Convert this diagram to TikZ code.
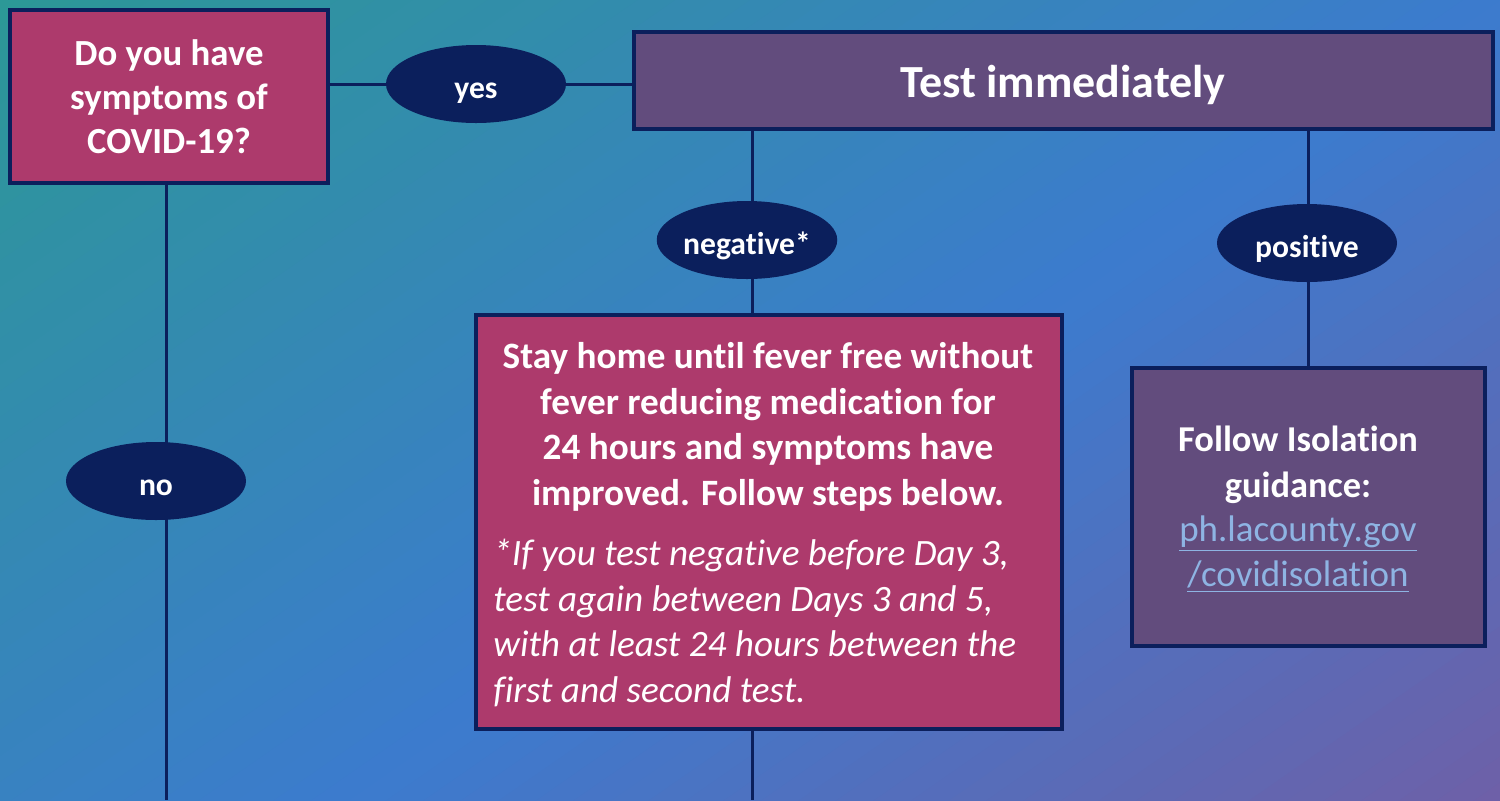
\documentclass[tikz,border=0pt]{standalone}
\usepackage{fontspec}
\setmainfont{Carlito}[Ligatures={NoCommon}]
\usetikzlibrary{shapes.geometric,fit}
\definecolor{tealC}{RGB}{44,152,150}
\definecolor{blueC}{RGB}{60,123,206}
\definecolor{purpC}{RGB}{125,88,156}
\definecolor{navy}{RGB}{11,31,92}
\definecolor{mag}{RGB}{173,58,108}
\definecolor{purp}{RGB}{98,76,125}
\definecolor{linkC}{RGB}{142,180,227}
\pgfdeclarelayer{bg}
\pgfdeclarelayer{lines}
\pgfsetlayers{bg,lines,main}
\begin{document}
\begin{tikzpicture}[x=0.5pt,y=-0.5pt,
  box/.style={draw=navy, line width=2pt, inner sep=0pt},
  magbox/.style={box, fill=mag},
  purbox/.style={box, fill=purp},
  oval/.style={ellipse, fill=navy, text=white, font=\bfseries\fontsize{15.8}{18}\selectfont, minimum width=90pt, minimum height=39pt, inner sep=0pt, text height=14pt, text depth=0pt},
  txt/.style={text=white, inner sep=0pt, align=center},
  conn/.style={draw=navy, line width=1.5pt}]
\useasboundingbox (0,0) rectangle (1500,800);
\begin{pgfonlayer}{bg}
\begin{scope}
\clip (0,0) rectangle (1500,800);
\foreach \i in {0,...,79}{
  \pgfmathsetmacro\myA{\i*21.4125}
  \pgfmathsetmacro\myB{\myA+23.5}
  \pgfmathsetmacro\myT{(\i+0.5)/80}
  \ifdim\myT pt<0.5pt
    \pgfmathsetmacro\myP{\myT*200}\colorlet{cc}{blueC!\myP!tealC}
  \else
    \pgfmathsetmacro\myP{(\myT-0.5)*200}\colorlet{cc}{purpC!\myP!blueC}
  \fi
  \fill[cc] ({\myA*cos(55.2)+1800*sin(55.2)},{\myA*sin(55.2)-1800*cos(55.2)})
    -- ({\myB*cos(55.2)+1800*sin(55.2)},{\myB*sin(55.2)-1800*cos(55.2)})
    -- ({\myB*cos(55.2)-1800*sin(55.2)},{\myB*sin(55.2)+1800*cos(55.2)})
    -- ({\myA*cos(55.2)-1800*sin(55.2)},{\myA*sin(55.2)+1800*cos(55.2)}) -- cycle;
}
\end{scope}
\end{pgfonlayer}

% boxes
\node[magbox, fit={(10,10) (328,183)}] (q) {};
\node[purbox, fit={(634,32) (1493,129)}] (test) {};
\node[magbox, fit={(476,315) (1062,729)}] (stay) {};
\node[purbox, fit={(1132,368) (1485,646)}] (iso) {};

% texts
\node[txt, font=\bfseries\fontsize{18.4}{22}\selectfont] (qt) at (169,97) {Do you have\\symptoms of\\COVID-19?};
\node[txt, font=\bfseries\fontsize{23}{27}\selectfont] (tt) at (1063,85) {Test immediately};
\node[txt, font=\bfseries\fontsize{18.6}{22.8}\selectfont] (st) at (768,427) {Stay home until fever free without\\fever reducing medication for\\24 hours and symptoms have\\improved. Follow steps below.};
\node[txt, align=left, anchor=west, font=\itshape\fontsize{18.6}{22.8}\selectfont] (si) at (493,623) {*If you test negative before Day 3,\\test again between Days 3 and 5,\\with at least 24 hours between the\\first and second test.};
\node[txt, font=\bfseries\fontsize{18.2}{22.8}\selectfont] (it) at (1298,465) {Follow Isolation\\guidance:};
\node[txt, text=linkC, font=\fontsize{18.5}{22.5}\selectfont] (il) at (1298,554) {\underline{ph.lacounty.gov}\\\underline{/covidisolation}};

% ovals
\node[oval] (yes) at (476,84) {yes};
\node[oval] (neg) at (747,240) {negative*};
\node[oval] (pos) at (1307,243) {positive};
\node[oval] (no) at (156,481) {no};

% connector ends
\coordinate (qend) at (166,800);
\coordinate (sx) at (752,800);
\coordinate (px) at (1308,0);

\begin{pgfonlayer}{lines}
\draw[conn] (q.east |- yes.center) -- (yes.center) -- (test.west |- yes.center);
\draw[conn] (q.south -| qend) -- (no.center -| qend) -- (qend);
\draw[conn] (test.south -| sx) -- (neg.center -| sx) -- (stay.north -| sx);
\draw[conn] (stay.south -| sx) -- (sx);
\draw[conn] (test.south -| px) -- (pos.center -| px) -- (iso.north -| px);
\end{pgfonlayer}
\end{tikzpicture}
\end{document}
